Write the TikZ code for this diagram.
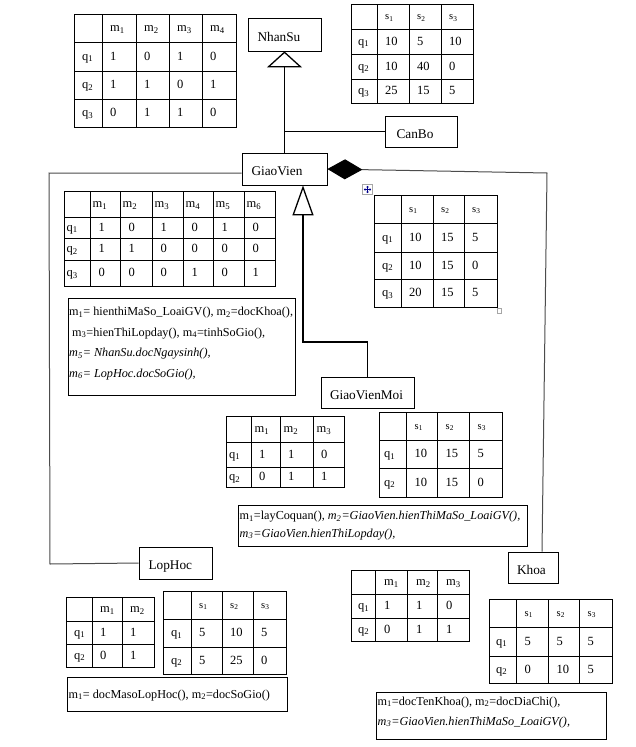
\documentclass[tikz,border=0pt]{standalone}
\usepackage{fontspec}
\setmainfont{Liberation Serif}
\usetikzlibrary{arrows.meta,calc}
\newcommand\msub[1]{m\textsubscript{#1}}
\newcommand\qsub[1]{q\textsubscript{#1}}
\newcommand\ssub[1]{s\textsubscript{#1}}
\newcommand\tabgrid[6]{%
  \draw[tabline] (#1,#3) rectangle (#2,#4);
  \foreach \xx in {#5} \draw[tabline] (\xx,#3) -- (\xx,#4);
  \foreach \yy in {#6} \draw[tabline] (#1,\yy) -- (#2,\yy);
}
\newcommand\cellrow[4][cell]{%
  \foreach \cx/\ct [count=\k] in {#4} \node[#1] (#2-\k) at (\cx,#3) {\ct};
}
\begin{document}
\begin{tikzpicture}[x=1pt,y=-1pt,
  tabline/.style={line width=0.8pt, black},
  cell/.style={anchor=base west, inner sep=0pt, font=\fontsize{12.5}{15}\selectfont},
  scell/.style={anchor=base west, inner sep=0pt, font=\fontsize{10.5}{12}\selectfont},
  cls/.style={draw, line width=0.8pt, fill=white, inner xsep=9.5pt, inner ysep=0pt,
    align=left, text height=13.4pt, text depth=0pt, font=\fontsize{13.3}{16}\selectfont},
  tbox/.style={draw, line width=0.8pt, inner sep=0pt},
  tbtext/.style={anchor=base west, inner sep=0pt, font=\fontsize{12.2}{14}\selectfont},
  gen/.style={line width=1.3pt, black, -{Triangle[open, length=16pt, width=35pt]}},
  genb/.style={line width=1.3pt, black, -{Triangle[open, length=30pt, width=21pt]}},
  plainline/.style={line width=1.3pt, black},
  assoc/.style={line width=1pt, black!70}
]
\fill[white] (0,0) rectangle (635,747);
\useasboundingbox (0,0) rectangle (635,747);

% ---------- class boxes ----------
\node[cls, text width=54pt, minimum height=33pt] (nhansu) at (284.5,34.5) {NhanSu};
\node[cls, inner xsep=11.5pt, text width=49pt, minimum height=31pt] (canbo) at (421,131.5) {CanBo};
\node[cls, text width=66pt, minimum height=32pt] (giaovien) at (284.5,169) {GiaoVien};
\node[cls, inner xsep=9pt, text width=75pt, minimum height=31pt] (gvmoi) at (367.5,392.5) {GiaoVienMoi};
\node[cls, text width=54pt, minimum height=32pt] (lophoc) at (175.5,563) {LopHoc};
\node[cls, inner xsep=9pt, text width=32pt, minimum height=31pt] (khoa) at (533,567.5) {Khoa};

% ---------- connectors ----------
\draw[gen] (giaovien.north) -- (nhansu.south);
\draw[plainline] (canbo.west) -- (canbo.west -| nhansu.south);
\coordinate (gmbend) at (303,342);
\draw[genb] (gvmoi.north) |- (gmbend) -- (gmbend |- giaovien.south);
\coordinate (kcorner) at (547,173);
\coordinate (kend) at ($(khoa.north)+(9,0)$);
\draw[assoc, {Diamond[length=35pt, width=20pt, color=black]}-] (giaovien.east) -- (kcorner) -- (kend);
\coordinate (lh1) at (49,173);
\coordinate (lh2) at (50,564);
\draw[assoc] (giaovien.west |- lh1) -- (lh1) -- (lh2) -- (lophoc.west);

% ---------- table 1 ----------
\tabgrid{74}{236}{14}{127}{102,136,169,202}{42,71,99}
\cellrow{t1h}{31.5}{110/\msub{1},144/\msub{2},177/\msub{3},210/\msub{4}}
\cellrow{t1a}{60}{82/\qsub{1},110/1,144/0,177/1,210/0}
\cellrow{t1b}{88.5}{82/\qsub{2},110/1,144/1,177/0,210/1}
\cellrow{t1c}{116.5}{82/\qsub{3},110/0,144/1,177/1,210/0}

% ---------- table 2 ----------
\tabgrid{351}{473}{4}{103}{377,409,441}{29,54,79}
\cellrow[scell]{t2h}{19.5}{385/\ssub{1},417/\ssub{2},449/\ssub{3}}
\cellrow{t2a}{45}{358/\qsub{1},385/10,417/5,449/10}
\cellrow{t2b}{70}{358/\qsub{2},385/10,417/40,449/0}
\cellrow{t2c}{94.5}{358/\qsub{3},385/25,417/15,449/5}

% ---------- table 3 ----------
\tabgrid{64}{275}{191}{286}{90,120,152,183,213,244}{217,238,260}
\cellrow{t3h}{207.5}{92.5/\msub{1},122.5/\msub{2},154.5/\msub{3},185.5/\msub{4},215.5/\msub{5},246.5/\msub{6}}
\cellrow{t3a}{231}{66.5/\qsub{1},98.5/1,128.5/0,160.5/1,191.5/0,221.5/1,252.5/0}
\cellrow{t3b}{252.5}{66.5/\qsub{2},98.5/1,128.5/1,160.5/0,191.5/0,221.5/0,252.5/0}
\cellrow{t3c}{276.5}{66.5/\qsub{3},98.5/0,128.5/0,160.5/0,191.5/1,221.5/0,252.5/1}

% ---------- table 4 ----------
\tabgrid{374}{497}{195}{307}{401,433,464}{223,252,279}
\cellrow[scell]{t4h}{212}{409/\ssub{1},441/\ssub{2},472/\ssub{3}}
\cellrow{t4a}{241}{382/\qsub{1},409/10,441/15,472/5}
\cellrow{t4b}{269}{382/\qsub{2},409/10,441/15,472/0}
\cellrow{t4c}{296.5}{382/\qsub{3},409/20,441/15,472/5}
\draw[gray!70, line width=0.5pt, fill=white] (362.5,184.5) rectangle (372.5,194.5);
\draw[blue!55!black, line width=0.6pt, {Triangle[length=1.5pt,width=2.4pt]}-{Triangle[length=1.5pt,width=2.4pt]}] (363.8,189.5) -- (371.2,189.5);
\draw[blue!55!black, line width=0.6pt, {Triangle[length=1.5pt,width=2.4pt]}-{Triangle[length=1.5pt,width=2.4pt]}] (367.5,185.8) -- (367.5,193.2);
\draw[gray!70, line width=0.5pt, fill=white] (497,308.5) rectangle (501.5,313);

% ---------- table 5 ----------
\tabgrid{226}{344}{416}{487}{251,280,313}{442,467}
\cellrow{t5h}{432.5}{254.5/\msub{1},283.5/\msub{2},316.5/\msub{3}}
\cellrow{t5a}{458}{229/\qsub{1},259/1,288/1,321/0}
\cellrow{t5b}{480.5}{229/\qsub{2},259/0,288/1,321/1}

% ---------- table 6 ----------
\tabgrid{379}{502}{412}{497}{406,437,469}{440,468}
\cellrow[scell]{t6h}{429}{414.5/\ssub{1},445.5/\ssub{2},477.5/\ssub{3}}
\cellrow{t6a}{457.5}{384/\qsub{1},414.5/10,445.5/15,477.5/5}
\cellrow{t6b}{486}{384/\qsub{2},414.5/10,445.5/15,477.5/0}

% ---------- table 7 ----------
\tabgrid{66}{154}{597}{667}{92,122}{621,644}
\cellrow{t7h}{612.5}{100/\msub{1},130/\msub{2}}
\cellrow{t7a}{636}{74/\qsub{1},100/1,130/1}
\cellrow{t7b}{659}{74/\qsub{2},100/0,130/1}

% ---------- table 8 ----------
\tabgrid{163}{286}{591}{674}{191,222,253}{619,647}
\cellrow[scell]{t8h}{608}{199/\ssub{1},230/\ssub{2},261/\ssub{3}}
\cellrow{t8a}{636.5}{171/\qsub{1},199/5,230/10,261/5}
\cellrow{t8b}{664}{171/\qsub{2},199/5,230/25,261/0}

% ---------- table 9 ----------
\tabgrid{351}{469}{570}{641}{375,407,437}{594,618}
\cellrow{t9h}{585.5}{384/\msub{1},416/\msub{2},446/\msub{3}}
\cellrow{t9a}{609.5}{358/\qsub{1},384/1,416/1,446/0}
\cellrow{t9b}{633}{358/\qsub{2},384/0,416/1,446/1}

% ---------- table 10 ----------
\tabgrid{489}{612}{599}{683}{516,548,579}{627,656}
\cellrow[scell]{t10h}{616}{524.5/\ssub{1},556.5/\ssub{2},587.5/\ssub{3}}
\cellrow{t10a}{645}{496/\qsub{1},524.5/5,556.5/5,587.5/5}
\cellrow{t10b}{673}{496/\qsub{2},524.5/0,556.5/10,587.5/5}

% ---------- text boxes ----------
\node[tbox, minimum width=227pt, minimum height=97pt] (tb1) at (181.5,346.5) {};
\node[tbtext] (tb1l1) at (69,315.5) {\msub{1}= hienthiMaSo\_LoaiGV(), \msub{2}=docKhoa(),};
\node[tbtext] (tb1l2) at (72,336) {\msub{3}=hienThiLopday(), \msub{4}=tinhSoGio(),};
\node[tbtext] (tb1l3) at (69,356.5) {\itshape \msub{5}= NhanSu.docNgaysinh(),};
\node[tbtext] (tb1l4) at (69,377) {\itshape \msub{6}= LopHoc.docSoGio(),};

\node[tbox, minimum width=289pt, minimum height=41pt] (tb2) at (382.5,525.5) {};
\node[tbtext] (tb2l1) at (239.5,519.8) {\msub{1}=layCoquan(), \textit{\msub{2}=GiaoVien.hienThiMaSo\_LoaiGV(),}};
\node[tbtext] (tb2l2) at (239.5,537) {\itshape \msub{3}=GiaoVien.hienThiLopday(),};

\node[tbox, minimum width=220pt, minimum height=34pt] (tb3) at (177,694) {};
\node[tbtext] (tb3l1) at (68.5,698) {\msub{1}= docMasoLopHoc(), \msub{2}=docSoGio()};

\node[tbox, minimum width=230pt, minimum height=47pt] (tb4) at (491,715.5) {};
\node[tbtext] (tb4l1) at (377.5,705) {\msub{1}=docTenKhoa(), \msub{2}=docDiaChi(),};
\node[tbtext] (tb4l2) at (377.5,725) {\itshape \msub{3}=GiaoVien.hienThiMaSo\_LoaiGV(),};
\end{tikzpicture}
\end{document}
